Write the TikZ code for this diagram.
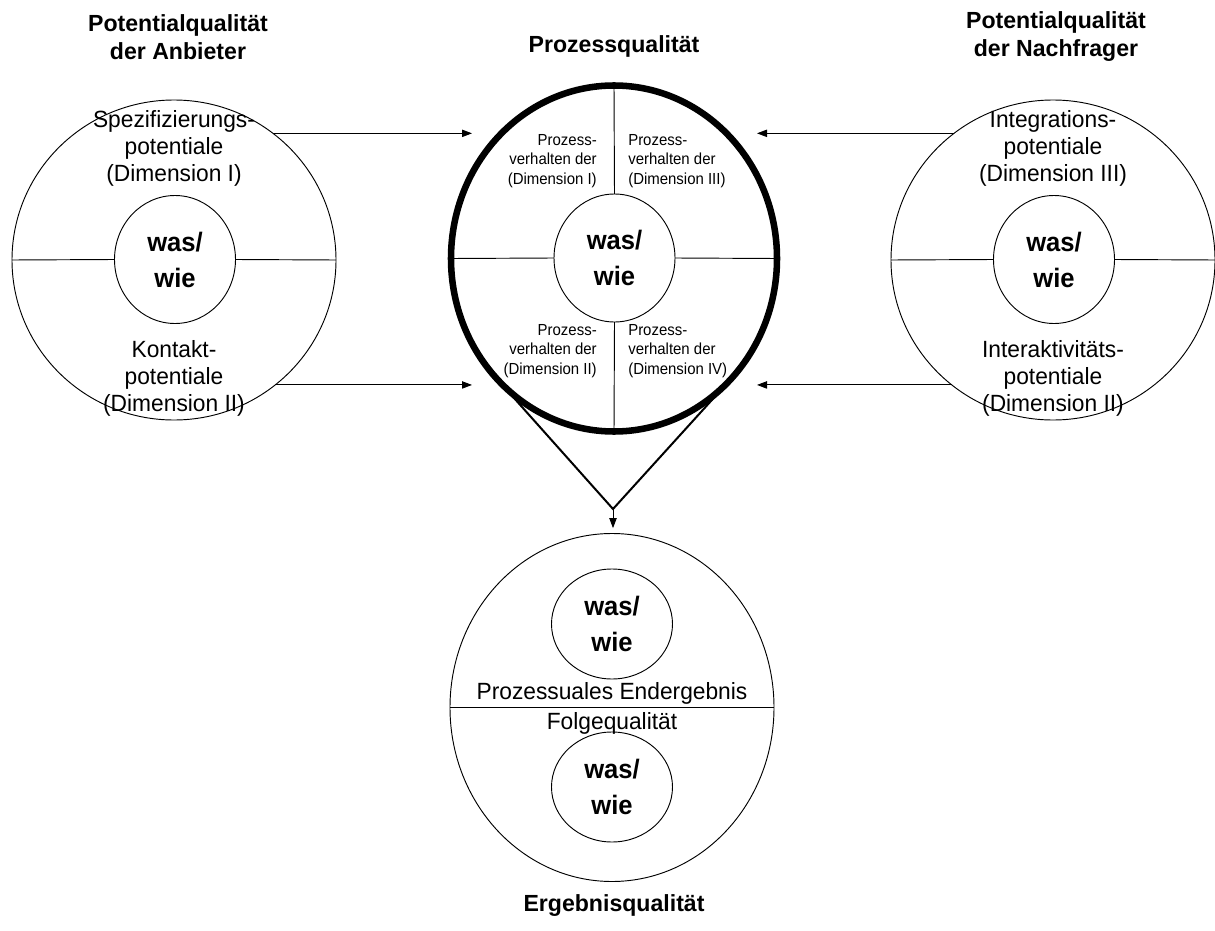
\documentclass[tikz,border=0pt]{standalone}
\usepackage{fontspec}
\setmainfont{Liberation Sans}
\newfontfamily\labelfont[FakeStretch=0.97]{Liberation Sans}
\newfontfamily\smallfont[FakeStretch=0.935]{Liberation Sans}
\newfontfamily\corefont[FakeStretch=0.96]{Liberation Sans}
\newfontfamily\titlefont[FakeStretch=0.99]{Liberation Sans}
\usetikzlibrary{arrows.meta,shapes.geometric}
\begin{document}
\begin{tikzpicture}[x=0.75pt,y=-0.75pt,
  ring/.style={draw, ellipse, inner sep=0pt, outer sep=0pt, line width=0.7pt},
  bigring/.style={ring, minimum width=243pt, minimum height=240pt},
  core/.style={ring, minimum width=90.75pt, minimum height=96pt, align=center,
    font=\corefont\bfseries\fontsize{20}{27}\selectfont},
  title/.style={align=center, font=\titlefont\bfseries\fontsize{17.5}{21}\selectfont},
  label/.style={align=center, font=\labelfont\fontsize{17.6}{20.25}\selectfont},
  small/.style={inner sep=0pt, font=\smallfont\fontsize{12}{14.6}\selectfont},
  thin/.style={line width=0.7pt},
  arr/.style={line width=0.7pt, -{Triangle[length=7.5pt,width=5.5pt]}}
]
\useasboundingbox (0,0) rectangle (1215,931);

% titles
\node[title] (tanb) at (178,37) {Potentialqualität\\der Anbieter};
\node[title] (tproz) at (614,46) {Prozessqualität};
\node[title] (tnach) at (1056,37) {Potentialqualität\\der Nachfrager};
\node[title] (terg) at (614,906) {Ergebnisqualität};

% provider potential
\node[bigring] (anb) at (174,260) {};
\node[core] (anbc) at (175,259.5) {was/\\wie};
\draw[thin] (anb.west) -- (anbc.west) (anbc.east) -- (anb.east);
\node[label] (anbt) at (174,148) {Spezifizierungs-\\potentiale\\(Dimension I)};
\node[label] (anbb) at (174,378) {Kontakt-\\potentiale\\(Dimension II)};

% customer potential
\node[bigring] (nach) at (1053,260) {};
\node[core] (nachc) at (1054,259.5) {was/\\wie};
\draw[thin] (nach.west) -- (nachc.west) (nachc.east) -- (nach.east);
\node[label] (nacht) at (1053,148) {Integrations-\\potentiale\\(Dimension III)};
\node[label] (nachb) at (1053,378) {Interaktivitäts-\\potentiale\\(Dimension II)};

% process quality
\node[ring, line width=4.9pt, minimum width=244.5pt, minimum height=259.5pt] (proz) at (614,258.5) {};
\node[core] (prozc) at (614.5,258) {was/\\wie};
\draw[thin] (proz.west) -- (prozc.west) (prozc.east) -- (proz.east)
            (proz.north) -- (prozc.north) (prozc.south) -- (proz.south);
\node[small, align=right, anchor=east] (q1) at (597,161) {Prozess-\\verhalten der\\(Dimension I)};
\node[small, align=left, anchor=west] (q3) at (628,161) {Prozess-\\verhalten der\\(Dimension III)};
\node[small, align=right, anchor=east] (q2) at (597,351) {Prozess-\\verhalten der\\(Dimension II)};
\node[small, align=left, anchor=west] (q4) at (628,351) {Prozess-\\verhalten der\\(Dimension IV)};

% result quality
\node[ring, minimum width=243pt, minimum height=261pt] (erg) at (612,707.5) {};
\node[core, minimum height=82.5pt] (erga) at (612,624) {was/\\wie};
\node[core, minimum height=82.5pt] (ergb) at (612,787) {was/\\wie};
\draw[thin] (erg.west) -- (erg.east);
\node[label] (ergt) at (612,693) {Prozessuales Endergebnis};
\node[label] (ergf) at (612,723) {Folgequalität};

% funnel from process to result
\coordinate (apex) at (613,509);
\draw[line width=1.5pt, line join=miter] (proz.-134.5) -- (apex) -- (proz.-45.5);
\draw[arr, shorten >=4pt] (apex) -- (apex |- erg.north);

% inflows
\coordinate (tipL) at (472,0);
\coordinate (tipR) at (757,0);
\draw[arr] (anb.52) -- (anb.52 -| tipL);
\draw[arr] (anb.-51) -- (anb.-51 -| tipL);
\draw[arr] (nach.128) -- (nach.128 -| tipR);
\draw[arr] (nach.231) -- (nach.231 -| tipR);
\end{tikzpicture}
\end{document}
